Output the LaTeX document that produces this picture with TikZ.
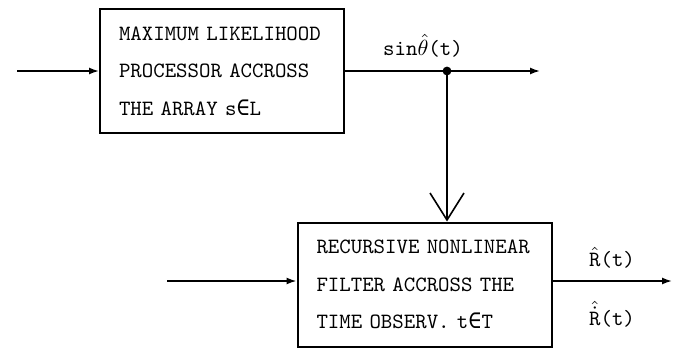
\documentclass[tikz,border=0pt]{standalone}
\usepackage{fontspec}
\newfontfamily\symfont{DejaVu Sans Mono}
\usetikzlibrary{arrows.meta}

\begin{document}
\begin{tikzpicture}[x=0.5pt,y=-0.5pt,line width=0.8pt,
    font=\ttfamily\fontsize{10.9}{18.75}\selectfont,
    blockbox/.style={draw,line width=1pt,align=left,inner xsep=9.5pt,minimum height=62pt},
    sig/.style={-{Latex[length=5pt,width=3.5pt]}},
    bigvee/.style={-{Straight Barb[length=13.5pt,width=17pt,line width=0.8pt]}}]
      \useasboundingbox (0,0) rectangle (680,349);
      \coordinate (in1) at (17,71);
      \coordinate (out1) at (540,71);
      \coordinate (tap) at (447,71);
      \coordinate (in2) at (167,281);
      \coordinate (out2) at (672,281);
      \node[blockbox,text width=103pt] (mlp) at (222,71) {MAXIMUM LIKELIHOOD\\PROCESSOR ACCROSS\\THE ARRAY s{\symfont ∈}L};
      \node[blockbox,text width=108pt] (rnf) at (424.5,284.5) {RECURSIVE NONLINEAR\\FILTER ACCROSS THE\\TIME OBSERV. t{\symfont ∈}T};
      \node (lblsin) at (423,46) {sin$\hat{\theta}$(t)};
      \node (lblR) at (612,258) {$\hat{\mbox{R}}$(t)};
      \node (lblRd) at (612,314) {$\hat{\dot{\mbox{R}}}$(t)};
      \draw[sig] (in1) -- (mlp.west |- in1);
      \draw[sig] (mlp.east |- out1) -- (out1);
      \fill (tap) circle (2.2pt);
      \draw[bigvee] (tap) -- (tap |- rnf.north);
      \draw[sig] (in2) -- (rnf.west |- in2);
      \draw[sig] (rnf.east |- out2) -- (out2);
    \end{tikzpicture}
\end{document}
